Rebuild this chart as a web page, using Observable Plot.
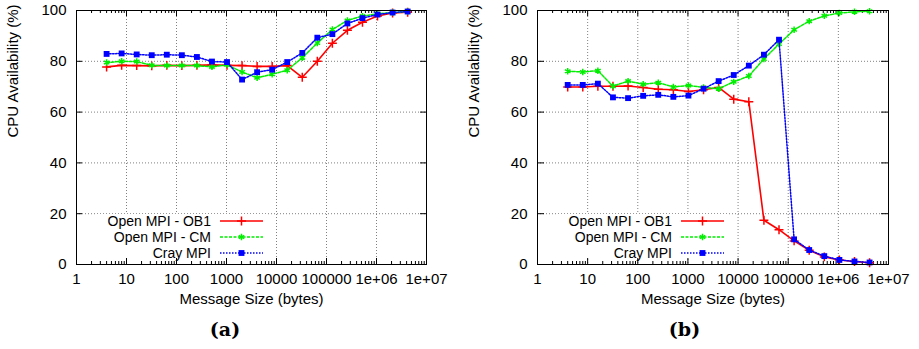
<!DOCTYPE html>
<html><head><meta charset="utf-8">
<script src="https://cdn.jsdelivr.net/npm/d3@7"></script>
<script src="https://cdn.jsdelivr.net/npm/@observablehq/plot@0.6"></script>
<style>
html,body{margin:0;padding:0;background:#fff;}
body{width:919px;height:349px;overflow:hidden;font-family:"Liberation Sans",Arial,sans-serif;}
#wrap{display:flex;}
.panel{position:relative;}
.panel svg{display:block;background:#fff;}
.cap{font-family:"DejaVu Serif",serif;font-weight:bold;font-size:19px;line-height:28px;height:34px;text-align:center;}
</style></head><body>
<div id="wrap"></div>
<script>
// Message sizes (bytes): 2^2 .. 2^22
const sizes = [4,8,16,32,64,128,256,512,1024,2048,4096,8192,16384,32768,65536,131072,262144,524288,1048576,2097152,4194304];
const xTicks = [1,10,100,1000,10000,100000,1e6,1e7];
const xTickLabels = ["1","10","100","1000","10000","100000","1e+06","1e+07"];
const yTicks = [0,20,40,60,80,100];
const seriesNames = ["Open MPI - OB1","Open MPI - CM","Cray MPI"];
const captions = ["(a)","(b)"];
const xLabel = "Message Size (bytes)";
const yLabel = "CPU Availability (%)";

// Panel (a)
const a_ob1  = [77.8,78.4,78.3,78.2,78.4,78.3,78.4,78.6,78.4,78.3,78.0,78.0,78.3,73.7,80.0,87.1,92.2,95.4,97.8,99.0,99.3];
const a_cm   = [79.5,80.0,79.9,78.4,78.3,78.3,78.3,77.8,78.6,75.8,73.5,74.9,76.5,81.4,87.2,92.5,96.1,97.8,98.7,99.2,99.6];
const a_cray = [82.9,83.1,82.7,82.4,82.6,82.4,81.7,79.9,79.7,72.8,75.7,76.7,79.7,83.3,89.3,90.7,94.9,97.0,98.4,99.2,99.6];
// Panel (b)
const b_ob1  = [69.9,69.9,70.2,70.2,70.3,69.7,69.0,68.8,68.1,68.8,69.7,65.1,64.1,17.4,13.7,9.3,5.6,3.0,1.8,1.2,0.7];
const b_cm   = [76.1,75.8,76.3,70.2,72.2,71.0,71.6,69.9,70.5,69.7,69.2,71.9,74.2,80.9,86.8,92.4,95.8,97.9,99.0,99.5,99.7];
const b_cray = [70.7,70.7,71.2,65.8,65.5,66.4,66.8,66.0,66.5,69.2,72.2,74.6,78.3,82.6,88.5,9.9,5.7,3.3,1.8,1.2,0.8];

const styles = [
  {color:"#ff0000", dash:null, symbol:"plus", width:1.6},
  {color:"#00ee00", dash:"3,1.5", symbol:"asterisk", width:1.5},
  {color:"#0000ff", dash:"1.5,1.5", symbol:"square", width:1.5}
];

const minorTicks = [];
for (let e = 0; e < 7; e++) for (let k = 2; k <= 9; k++) minorTicks.push(k * Math.pow(10, e));

function legendMark(index, scales, values, dims) {
  const g = d3.create("svg:g");
  const x0 = dims.marginLeft, yb = dims.height - dims.marginBottom;
  g.append("rect").attr("x", x0 + 20).attr("y", yb - 50).attr("width", 170).attr("height", 44).attr("fill", "white");
  const symMap = {plus: d3.symbolPlus, asterisk: d3.symbolAsterisk, square: d3.symbolSquare};
  seriesNames.forEach((name, i) => {
    const s = styles[i];
    const y = yb - 43 + i * 16;
    g.append("text").attr("x", x0 + 135).attr("y", y).attr("dy", "0.35em")
      .attr("text-anchor", "end").attr("font-size", 14).attr("fill", "black").text(name);
    g.append("line").attr("x1", x0 + 144).attr("x2", x0 + 187).attr("y1", y).attr("y2", y)
      .attr("stroke", s.color).attr("stroke-width", s.width).attr("stroke-dasharray", s.dash);
    const r = s.symbol === "square" ? 3.3 : 3;
    const p = g.append("path").attr("transform", `translate(${x0 + 165.5},${y})`)
      .attr("d", d3.symbol(symMap[s.symbol], Math.PI * r * r)());
    if (s.symbol === "square") p.attr("fill", s.color);
    else p.attr("fill", "none").attr("stroke", s.color).attr("stroke-width", 1.5);
  });
  return g.node();
}

function makePanel(series, caption, width, marginRight) {
  const rows = [];
  series.forEach((vals, si) => vals.forEach((v, i) => rows.push({size: sizes[i], value: v, series: seriesNames[si]})));
  const marks = [
    Plot.ruleX(xTicks.slice(1, -1), {x: d => d, stroke: "#808080", strokeDasharray: "1,2"}),
    Plot.ruleY(yTicks.slice(1, -1), {y: d => d, stroke: "#808080", strokeDasharray: "1,2"}),
    // inward ticks
    Plot.tickX(xTicks, {x: d => d, stroke: "black", insetTop: 248}),
    Plot.tickX(xTicks, {x: d => d, stroke: "black", insetBottom: 248}),
    Plot.tickX(minorTicks, {x: d => d, stroke: "black", insetTop: 251}),
    Plot.tickX(minorTicks, {x: d => d, stroke: "black", insetBottom: 251}),
    Plot.tickY(yTicks, {y: d => d, stroke: "black", insetRight: 344}),
    Plot.tickY(yTicks, {y: d => d, stroke: "black", insetLeft: 344}),
    Plot.axisX(xTicks, {tickSize: 0, tickPadding: 9, fontSize: 15, label: null,
      tickFormat: d => xTickLabels[xTicks.indexOf(d)]}),
    Plot.axisY(yTicks, {tickSize: 0, tickPadding: 10, fontSize: 15, label: null}),
    Plot.text([xLabel], {text: d => d, frameAnchor: "bottom", dy: 39, fontSize: 15, fill: "black"}),
    Plot.text([yLabel], {text: d => d, frameAnchor: "left", rotate: -90, dx: -63, fontSize: 15, fill: "black"})
  ];
  seriesNames.forEach((name, si) => {
    const s = styles[si];
    const data = rows.filter(r => r.series === name);
    marks.push(Plot.line(data, {x: "size", y: "value", stroke: s.color, strokeWidth: s.width, strokeDasharray: s.dash || undefined}));
    if (s.symbol === "square")
      marks.push(Plot.dot(data, {x: "size", y: "value", symbol: "square", r: 3.3, fill: s.color, stroke: "none"}));
    else
      marks.push(Plot.dot(data, {x: "size", y: "value", symbol: s.symbol, r: 3, stroke: s.color, strokeWidth: 1.5, fill: "none"}));
  });
  marks.push(legendMark);
  marks.push(Plot.frame({stroke: "black", strokeWidth: 1}));

  const svg = Plot.plot({
    width, height: 315,
    marginLeft: 76, marginRight, marginTop: 10, marginBottom: 51,
    x: {type: "log", domain: [1, 1e7], label: null},
    y: {domain: [0, 100], label: null},
    style: {fontFamily: '"Liberation Sans", Arial, sans-serif', fontSize: "15px", color: "black", background: "white"},
    marks
  });
  const div = document.createElement("div");
  div.className = "panel";
  div.style.width = width + "px";
  div.appendChild(svg);
  const cap = document.createElement("div");
  cap.className = "cap";
  cap.style.paddingRight = "11px";
  cap.textContent = caption;
  div.appendChild(cap);
  return div;
}

const wrap = document.getElementById("wrap");
wrap.appendChild(makePanel([a_ob1, a_cm, a_cray], captions[0], 461, 35));
wrap.appendChild(makePanel([b_ob1, b_cm, b_cray], captions[1], 458, 31));
</script>
</body></html>
